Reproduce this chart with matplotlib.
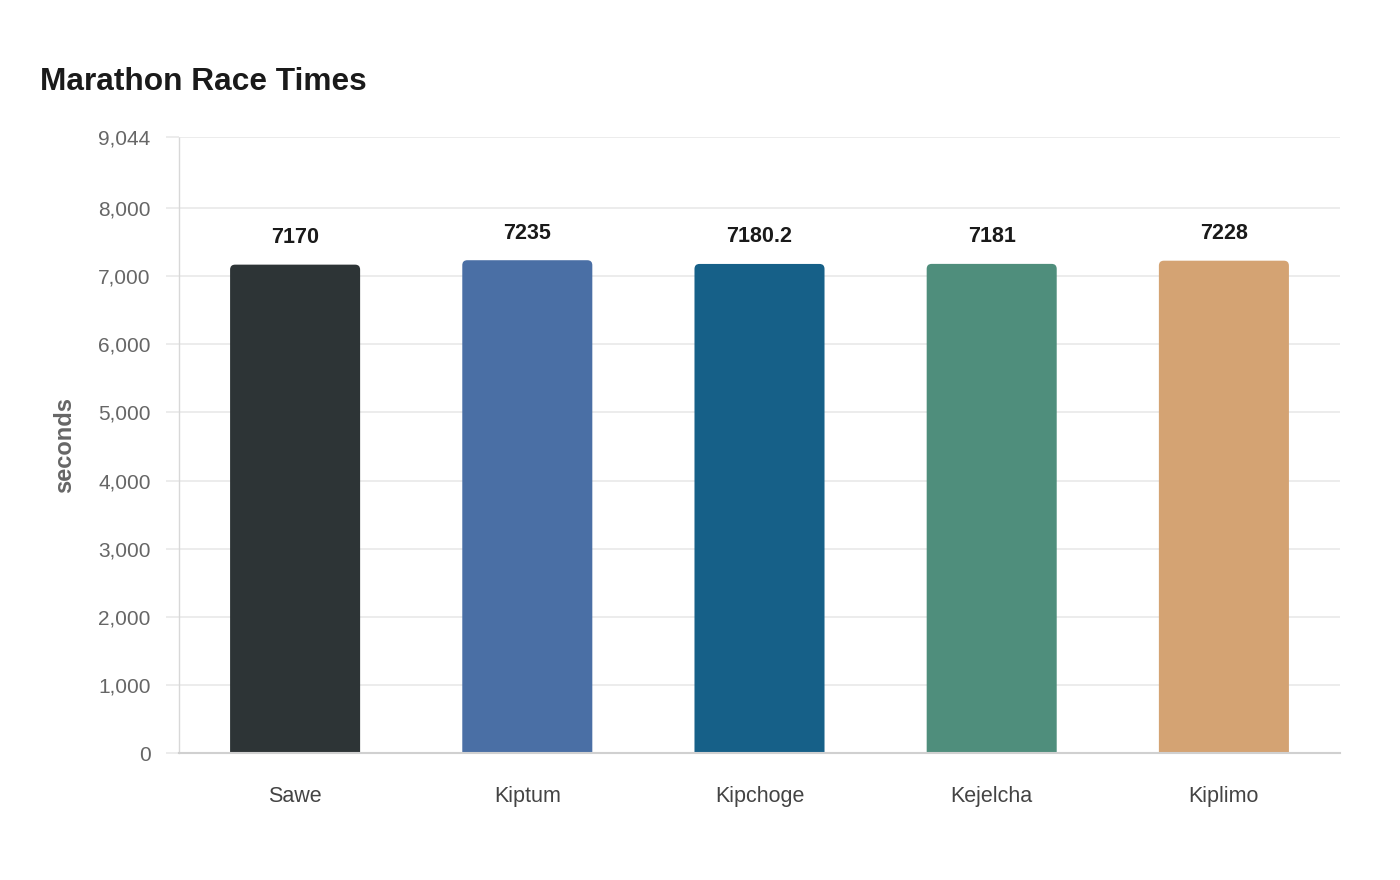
import matplotlib.pyplot as plt
from matplotlib.patches import FancyBboxPatch

plt.rcParams["font.family"] = ["Liberation Sans", "DejaVu Sans"]

# ----------------------------
# Data
# ----------------------------
runners = ["Sawe", "Kiptum", "Kipchoge", "Kejelcha", "Kiplimo"]
times_seconds = [7170, 7235, 7180.2, 7181, 7228]
value_labels = ["7170", "7235", "7180.2", "7181", "7228"]
bar_colours = ["#2d3436", "#4a6fa5", "#166088", "#4f8e7c", "#d4a373"]
y_ticks = [0, 1000, 2000, 3000, 4000, 5000, 6000, 7000, 8000, 9044]
y_max = 9044

grid_colour = "#e9e9e9"
tick_text = "#666666"

fig = plt.figure(figsize=(14, 8.8), dpi=100)
ax = fig.add_axes([179 / 1400, 1 - 753 / 880, (1340 - 179) / 1400, (753 - 137) / 880])

ax.set_xlim(-0.5, len(runners) - 0.5)
ax.set_ylim(0, y_max)

bar_width = 0.56
bars = ax.bar(range(len(runners)), times_seconds, width=bar_width, color=bar_colours, zorder=3)

# Rounded tops: replace each bar by a rounded box that starts below zero,
# so the axes clip hides the bottom corners
px_per_x = ax.bbox.width / len(runners)
units_per_px_y = y_max / ax.bbox.height
aspect = units_per_px_y * px_per_x
radius = 5 / px_per_x
below = 20 * units_per_px_y
for rect, colour in zip(bars, bar_colours):
    x0, w, h = rect.get_x(), rect.get_width(), rect.get_height()
    rect.set_visible(False)
    ax.add_patch(FancyBboxPatch(
        (x0, -below), w, h + below,
        boxstyle=f"round,pad=0,rounding_size={radius}",
        mutation_aspect=aspect,
        facecolor=colour, edgecolor="none", zorder=3,
    ))

for i, (val, txt) in enumerate(zip(times_seconds, value_labels)):
    ax.annotate(
        txt, (i, val), xytext=(0, 27), textcoords="offset pixels",
        ha="center", va="center", fontsize=15.5, fontweight="bold", color="#1a1a1a",
    )

ax.set_yticks(y_ticks)
ax.set_yticklabels([f"{t:,}" for t in y_ticks])
ax.set_xticks(range(len(runners)))
ax.set_xticklabels(runners)

ax.grid(axis="y", color=grid_colour, linewidth=1.2, zorder=0)
ax.tick_params(axis="y", length=9.5, color=grid_colour, width=1.2, labelsize=15, labelcolor=tick_text, pad=11)
ax.tick_params(axis="x", length=0, labelsize=15.5, labelcolor="#444444", pad=24)

for side in ["top", "right"]:
    ax.spines[side].set_visible(False)
ax.spines["left"].set_color("#d8d8d8")
ax.spines["left"].set_linestyle((0, (1, 1)))
ax.spines["left"].set_linewidth(1)
ax.spines["bottom"].set_color("#d0d0d0")
ax.spines["bottom"].set_linewidth(1.5)
ax.spines["bottom"].set_zorder(4)

ax.set_ylabel("seconds", fontsize=17, fontweight="bold", color=tick_text)
ax.yaxis.set_label_coords(-103 / ax.bbox.width, 0.5)

fig.text(40 / 1400, 1 - 90 / 880, "Marathon Race Times", fontsize=22.8, fontweight="bold",
         color="#1a1a1a", ha="left", va="baseline")

fig.savefig("out.png", dpi=100, facecolor="white")
